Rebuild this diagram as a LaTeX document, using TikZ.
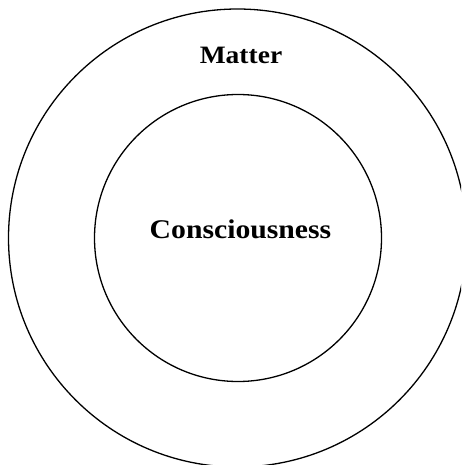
\documentclass[tikz,border=0pt]{standalone}
\usepackage{fontspec}
\setmainfont{Liberation Serif}
\newcommand{\widetxt}[3]{\scalebox{#2}[1]{\bfseries\fontsize{#1}{#1}\selectfont #3}}
\begin{document}
\begin{tikzpicture}[x=1pt,y=-1pt,
  ring/.style={draw=black,line width=1.3pt},
  lbl/.style={anchor=base,inner sep=0pt}]
\useasboundingbox (0,0) rectangle (461,465);
\begin{scope}
\clip (0,0) rectangle (461,465);
\draw[ring] (237.5,238) circle[radius=229];
\end{scope}
\draw[ring] (238,238) circle[radius=143.5];
\node[lbl] (matter) at (241,64) {\widetxt{25}{1.1}{Matter}};
\node[lbl] (cons) at (240.5,238) {\widetxt{27}{1.1}{Consciousness}};
\end{tikzpicture}
\end{document}
